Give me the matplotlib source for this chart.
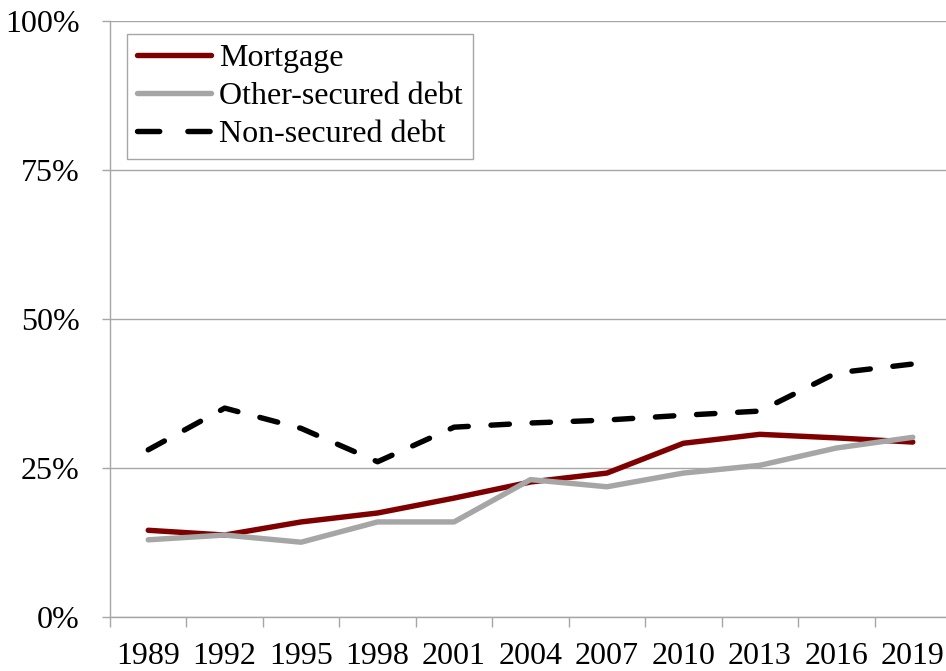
import numpy as np
import matplotlib.pyplot as plt
from matplotlib.ticker import FixedLocator, FuncFormatter

# Survey years and shares (%)
years = ['1989', '1992', '1995', '1998', '2001', '2004',
         '2007', '2010', '2013', '2016', '2019']
mortgage = [14.5, 13.7, 15.9, 17.4, 19.9, 22.6, 24.1, 29.1, 30.6, 30.0, 29.3]
other_secured = [12.9, 13.7, 12.5, 15.9, 15.9, 23.0, 21.8, 24.1, 25.4, 28.3, 30.1]
non_secured = [28.0, 35.0, 31.6, 26.0, 31.8, 32.5, 33.0, 33.8, 34.5, 40.9, 42.4]

plt.rcParams['font.family'] = ['Liberation Serif', 'DejaVu Serif']

fig = plt.figure(figsize=(9.46, 6.71), dpi=100)
W, H = 946, 671
ax = fig.add_axes([110 / W, (H - 616.7) / H, (951 - 110) / W, (616.7 - 20.7) / H])

x = np.arange(len(years))
grid_c = '#A6A6A6'
fs = 23

ax.plot(x, mortgage, color='#7F0000', lw=3.9, label='Mortgage',
        solid_capstyle='round', zorder=3)
ax.plot(x, other_secured, color='#A6A6A6', lw=3.9, label='Other-secured debt',
        solid_capstyle='round', zorder=3)
ax.plot(x, non_secured, color='black', lw=3.9, label='Non-secured debt',
        dashes=(3.4, 4.2), dash_capstyle='round', zorder=3)

ax.set_xlim(-0.5, len(years) - 0.5)
ax.set_ylim(0, 100)

ax.set_yticks([0, 25, 50, 75, 100])
ax.yaxis.set_major_formatter(FuncFormatter(lambda v, p: f'{v:.0f}%'))
ax.yaxis.grid(True, color=grid_c, lw=1)
ax.set_axisbelow(True)

ax.set_xticks(x)
ax.set_xticklabels(years)
ax.xaxis.set_minor_locator(FixedLocator(np.arange(-0.5, len(years), 1.0)))
ax.tick_params(axis='x', which='major', length=0, pad=18, labelsize=fs)
ax.tick_params(axis='x', which='minor', length=7, width=1, color=grid_c)
ax.tick_params(axis='y', length=6, width=1, color=grid_c, pad=16, labelsize=fs)

for s in ['top', 'right']:
    ax.spines[s].set_visible(False)
for s in ['left', 'bottom']:
    ax.spines[s].set_color(grid_c)
    ax.spines[s].set_linewidth(1)

leg = ax.legend(loc='upper left', bbox_to_anchor=(17 / 841, 1 - 13 / 596),
                fontsize=fs, handlelength=2.3, handletextpad=0.25,
                borderpad=0.32, labelspacing=0.27, fancybox=False,
                framealpha=1, borderaxespad=0)
leg.get_frame().set_edgecolor(grid_c)
leg.get_frame().set_linewidth(1)
# two whole dashes in the legend sample
leg.get_lines()[2].set_dashes((4.1, 5.2))

fig.savefig('out.png', dpi=100)
